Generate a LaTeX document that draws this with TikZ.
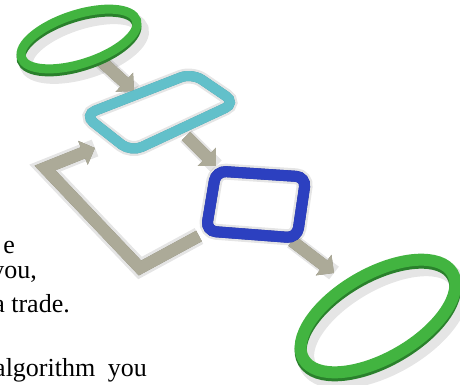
\documentclass[tikz,border=0pt]{standalone}
\usepackage{fontspec}
\setmainfont{Liberation Serif}
\usepackage{xcolor}
\usetikzlibrary{arrows.meta, calc}

\definecolor{ringgreen}{RGB}{66,180,64}
\definecolor{ringgreenside}{RGB}{42,128,44}
\definecolor{ringcyan}{RGB}{98,192,202}
\definecolor{ringcyanside}{RGB}{58,146,158}
\definecolor{ringblue}{RGB}{44,64,192}
\definecolor{ringblueside}{RGB}{26,38,138}
\definecolor{arrowgray}{RGB}{172,170,152}
\definecolor{arrowside}{RGB}{128,126,110}

\begin{document}
\begin{tikzpicture}[x=1pt, y=-1pt,
  shadowline/.style={draw=black, opacity=0.1, shift={(5,8)}},
  sideline/.style={shift={(0,3)}},
  flowarrow/.style={line width=12pt, -{Triangle[length=13pt, width=25pt]}},
  textline/.style={anchor=base east, inner sep=0pt, font=\fontsize{26}{30}\selectfont}]
  \useasboundingbox (0,0) rectangle (460,385);
  \clip (0,0) rectangle (460,385);

  % Corners of the two boxes
  \coordinate (procL) at (84,115);
  \coordinate (procT) at (192,73);
  \coordinate (procR) at (236,103);
  \coordinate (procB) at (131,152);
  \coordinate (decTL) at (216,171);
  \coordinate (decTR) at (306,177);
  \coordinate (decBR) at (297,238);
  \coordinate (decBL) at (206,231);

  % Arrow end points
  \coordinate (startOut) at (100,60);
  \coordinate (procIn) at (134,91);
  \coordinate (procOut) at (186,136);
  \coordinate (decIn) at (216,166);
  \coordinate (decOut) at (292,241);
  \coordinate (stopIn) at (334,273);
  \coordinate (loopOut) at (199,236);
  \coordinate (loopLow) at (140,268);
  \coordinate (loopHigh) at (45,168);
  \coordinate (loopIn) at (95,148);

  % Soft shadows
  \draw[shadowline, line width=16pt] (startOut) -- (procIn);
  \draw[shadowline, line width=16pt] (procOut) -- (decIn);
  \draw[shadowline, line width=16pt] (decOut) -- (stopIn);
  \draw[shadowline, line width=18pt, line join=miter] (loopOut) -- (loopLow) -- (loopHigh) -- (loopIn);
  \draw[shadowline, line width=14pt, rotate around={18:(79,39)}] (79,39) ellipse [x radius=60.5, y radius=24.5];
  \draw[shadowline, line width=15pt, rounded corners=12pt] (procL) -- (procT) -- (procR) -- (procB) -- cycle;
  \draw[shadowline, line width=16pt, rounded corners=10pt] (decTL) -- (decTR) -- (decBR) -- (decBL) -- cycle;
  \draw[shadowline, line width=17pt, rotate around={30:(378,316)}] (378,316) ellipse [x radius=86, y radius=42];

  % Gray arrows
  \foreach \a/\b in {startOut/procIn, procOut/decIn, decOut/stopIn} {
    \draw[flowarrow, arrowside, sideline] (\a) -- (\b);
    \draw[flowarrow, arrowgray] (\a) -- (\b);
  }
  \draw[flowarrow, arrowside, sideline, line join=miter] (loopOut) -- (loopLow) -- (loopHigh) -- (loopIn);
  \draw[flowarrow, arrowgray, line join=miter] (loopOut) -- (loopLow) -- (loopHigh) -- (loopIn);

  % Start ring
  \draw[ringgreenside, line width=9pt, sideline, rotate around={18:(79,39)}] (79,39) ellipse [x radius=60.5, y radius=24.5];
  \draw[ringgreen, line width=9pt, rotate around={18:(79,39)}] (79,39) ellipse [x radius=60.5, y radius=24.5];

  % Process box
  \draw[ringcyanside, line width=10pt, sideline, rounded corners=12pt] (procL) -- (procT) -- (procR) -- (procB) -- cycle;
  \draw[ringcyan, line width=10pt, rounded corners=12pt] (procL) -- (procT) -- (procR) -- (procB) -- cycle;

  % Decision box
  \draw[ringblueside, line width=11pt, sideline, rounded corners=10pt] (decTL) -- (decTR) -- (decBR) -- (decBL) -- cycle;
  \draw[ringblue, line width=11pt, rounded corners=10pt] (decTL) -- (decTR) -- (decBR) -- (decBL) -- cycle;

  % End ring
  \draw[ringgreenside, line width=12pt, sideline, rotate around={30:(378,316)}] (378,316) ellipse [x radius=86, y radius=42];
  \draw[ringgreen, line width=12pt, rotate around={30:(378,316)}] (378,316) ellipse [x radius=86, y radius=42];

  % Text running beside the chart
  \node[textline] (line1) at (15,253) {e};
  \node[textline] (line2) at (37,278) {you,};
  \node[textline] (line3) at (70,312) {a trade.};
  \node[textline] (line4) at (147,376) {algorithm\hspace{6pt} you};
\end{tikzpicture}
\end{document}
